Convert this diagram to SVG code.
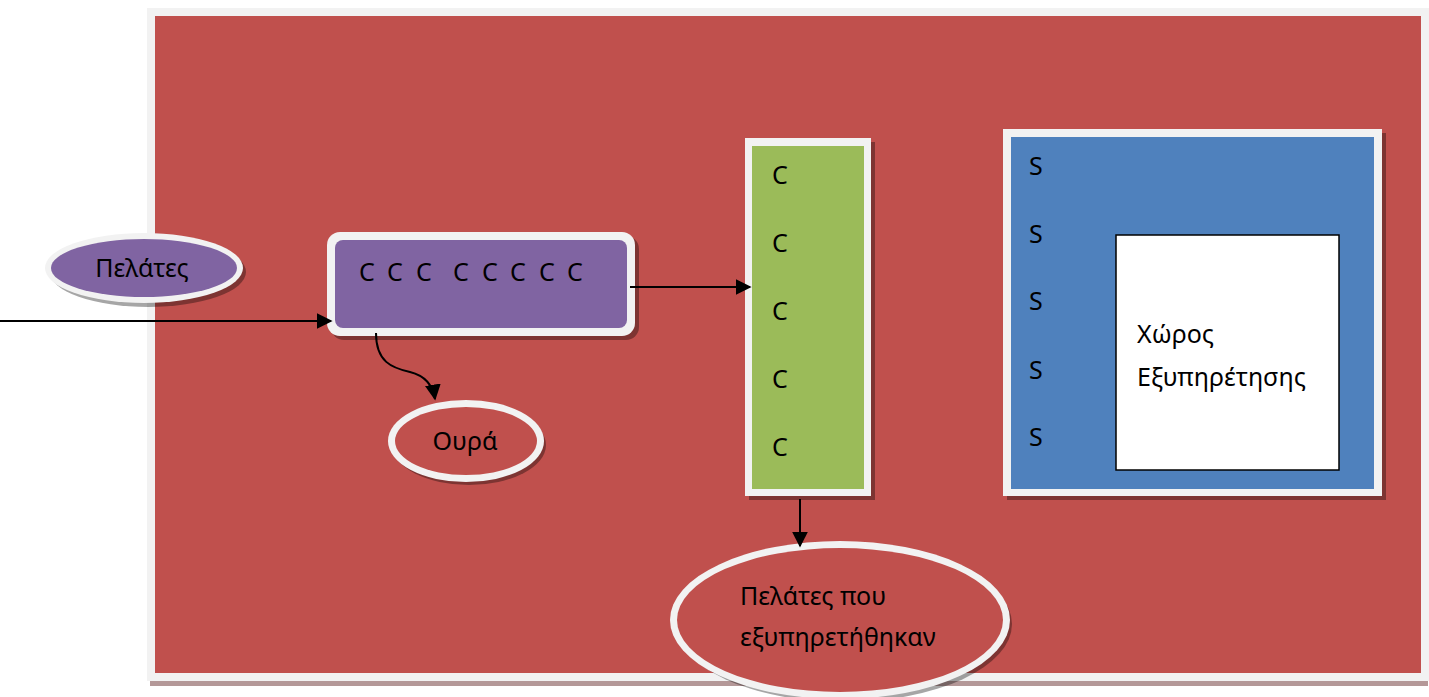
<svg xmlns="http://www.w3.org/2000/svg" width="1429" height="697" viewBox="0 0 1429 697">
  <defs>
    <style>
      .lbl { font-family: "Noto Sans", "Open Sans", sans-serif; font-size: 25px; fill: #000; }
      .edge { fill: #f2f2f2; }
      .shadow { fill: #000; opacity: 0.35; }
      .conn { fill: none; stroke: #000; stroke-width: 2; }
    </style>
    <marker id="arrowBig" viewBox="0 0 10 10" refX="9" refY="5" markerWidth="16" markerHeight="16" markerUnits="userSpaceOnUse" orient="auto">
      <path d="M0,0 L10,5 L0,10 Z" fill="#000"/>
    </marker>
  </defs>

  <rect width="1429" height="697" fill="#fff"/>

  <!-- outer system frame -->
  <g id="system">
    <rect x="150" y="681" width="1278" height="5" fill="#b49898"/>
    <rect x="147" y="8" width="1282" height="673" class="edge"/>
    <rect x="155" y="16" width="1266" height="657" fill="#c0504d"/>
  </g>

  <!-- arrivals -->
  <g id="customers">
    <ellipse cx="148" cy="272" rx="98" ry="35" class="shadow"/>
    <ellipse cx="144" cy="268" rx="99" ry="35" class="edge"/>
    <ellipse cx="144" cy="268" rx="93" ry="29" fill="#8064a2"/>
    <text x="142" y="277" text-anchor="middle" class="lbl">Πελάτες</text>
  </g>

  <!-- waiting line -->
  <g id="queue">
    <rect x="331" y="236" width="308" height="104" rx="13" class="shadow"/>
    <rect x="327" y="232" width="308" height="104" rx="13" class="edge"/>
    <rect x="335" y="240" width="292" height="88" rx="8" fill="#8064a2"/>
    <text x="367 395 424 461 490 518 547 575" y="281" text-anchor="middle" class="lbl">CCCCCCCC</text>
  </g>

  <g id="queue-label">
    <ellipse cx="469" cy="445" rx="77" ry="40" class="shadow"/>
    <ellipse cx="466" cy="441" rx="78" ry="41" class="edge"/>
    <ellipse cx="466" cy="441" rx="71" ry="34" fill="#c0504d"/>
    <text x="465" y="450" text-anchor="middle" class="lbl">Ουρά</text>
  </g>

  <!-- customers being served -->
  <g id="in-service">
    <rect x="749" y="142" width="126" height="358" class="shadow"/>
    <rect x="745" y="138" width="126" height="358" class="edge"/>
    <rect x="752" y="146" width="112" height="343" fill="#9bbb59"/>
    <text x="772" y="184" class="lbl">C</text>
    <text x="772" y="252" class="lbl">C</text>
    <text x="772" y="320" class="lbl">C</text>
    <text x="772" y="388" class="lbl">C</text>
    <text x="772" y="456" class="lbl">C</text>
  </g>

  <!-- servers -->
  <g id="servers">
    <rect x="1007" y="133" width="379" height="367" class="shadow"/>
    <rect x="1003" y="129" width="379" height="367" class="edge"/>
    <rect x="1011" y="137" width="363" height="352" fill="#4f81bd"/>
    <text x="1029" y="175" class="lbl">S</text>
    <text x="1029" y="243" class="lbl">S</text>
    <text x="1029" y="310" class="lbl">S</text>
    <text x="1029" y="379" class="lbl">S</text>
    <text x="1029" y="446" class="lbl">S</text>
  </g>

  <g id="service-area">
    <rect x="1116" y="235" width="223" height="235" fill="#fff" stroke="#000" stroke-width="1.5"/>
    <text x="1137" y="343" class="lbl">Χώρος</text>
    <text x="1137" y="386" class="lbl">Εξυπηρέτησης</text>
  </g>

  <!-- departures -->
  <g id="served">
    <ellipse cx="844" cy="624" rx="168" ry="78" class="shadow"/>
    <ellipse cx="840" cy="620" rx="170" ry="79" class="edge"/>
    <ellipse cx="840" cy="620" rx="163" ry="72" fill="#c0504d"/>
    <text x="740" y="605" class="lbl">Πελάτες που</text>
    <text x="740" y="646" class="lbl">εξυπηρετήθηκαν</text>
  </g>

  <!-- connectors -->
  <g id="connectors">
    <line x1="0" y1="321" x2="331" y2="321" class="conn" marker-end="url(#arrowBig)"/>
    <path d="M376,333 C376,362 392,368 410,372 C426,376 433,386 435,399" class="conn" marker-end="url(#arrowBig)"/>
    <line x1="630" y1="287" x2="750" y2="287" class="conn" marker-end="url(#arrowBig)"/>
    <line x1="800" y1="499" x2="800" y2="546" class="conn" marker-end="url(#arrowBig)"/>
  </g>
</svg>
